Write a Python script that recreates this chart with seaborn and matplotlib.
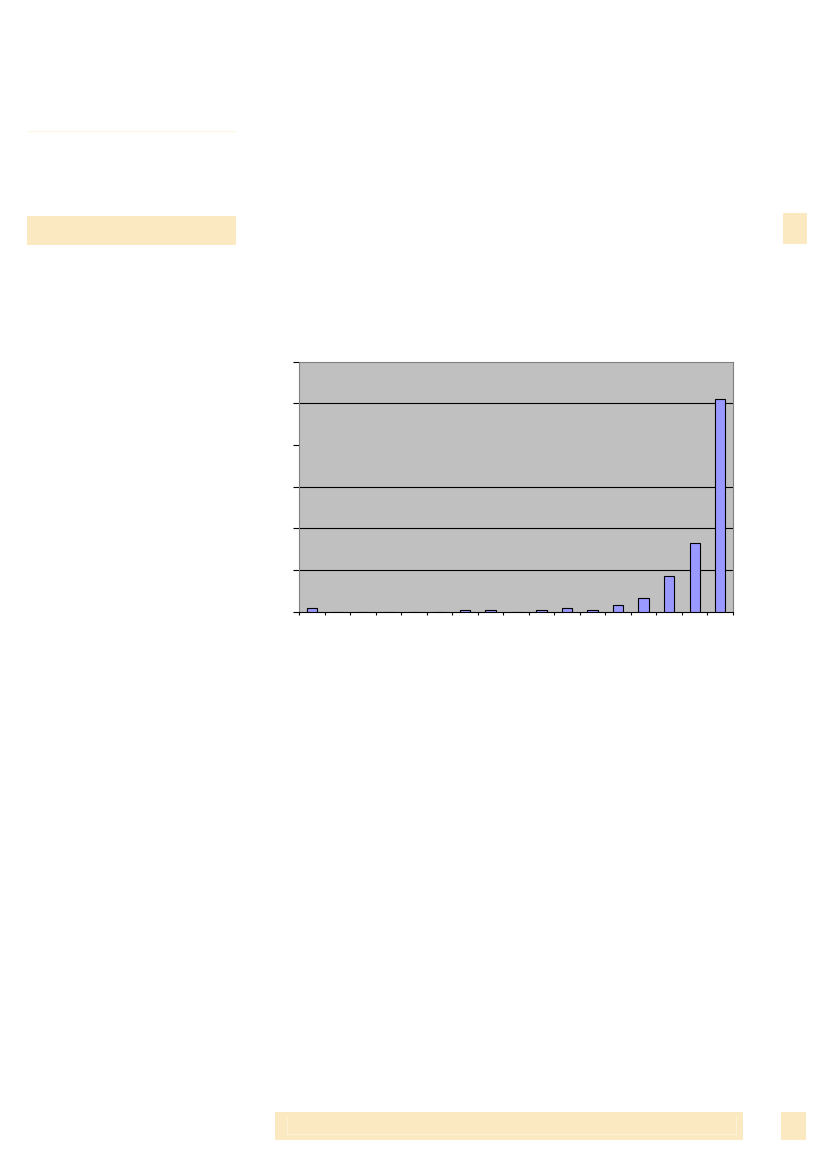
import matplotlib
matplotlib.use("Agg")
import matplotlib.pyplot as plt
from matplotlib.patches import Rectangle
import seaborn as sns
import pandas as pd

# ---- data ----
categories = [str(i) for i in range(1, 18)]
values = [0.08, 0, 0, 0, 0, 0, 0.03, 0.03, 0, 0.03, 0.08, 0.03, 0.15, 0.34, 0.85, 1.66, 5.1]
y_ticks = [0, 1, 2, 3, 4, 5, 6]
grid_values = [1, 2, 3, 5]

df = pd.DataFrame({"category": categories, "value": values})

sns.set_theme(style="white")
plt.rcParams['font.family'] = ['DejaVu Sans']

W, H = 826, 1169
fig = plt.figure(figsize=(W / 100, H / 100), dpi=100)
fig.patch.set_facecolor("white")

pale = "#FBE9C1"

def px_rect(x0, y0, x1, y1, **kw):
    fig.patches.append(Rectangle((x0 / W, 1 - y1 / H), (x1 - x0) / W, (y1 - y0) / H,
                                 transform=fig.transFigure, figure=fig, **kw))

def px_line(xs, ys, **kw):
    fig.add_artist(plt.Line2D([x / W for x in xs], [1 - y / H for y in ys],
                              transform=fig.transFigure, **kw))

# page decorations
px_line([28, 235], [131, 131], color="#FDF5E2", lw=0.8)
px_rect(27, 216, 236, 245, facecolor=pale, edgecolor="none")
px_rect(783, 213.5, 806.5, 243.5, facecolor=pale, edgecolor="none")
px_rect(274.5, 1112, 743, 1139.5, facecolor=pale, edgecolor="none")
px_line([287, 287, 736, 736], [1117, 1133.5, 1133.5, 1117], color="#FDF1D6", lw=0.8)
px_rect(781, 1112, 806, 1139.5, facecolor=pale, edgecolor="none")

# chart axes
left, right, top, bottom = 299.3, 733.0, 361.7, 611.7
ax = fig.add_axes([left / W, 1 - bottom / H, (right - left) / W, (bottom - top) / H])
ax.set_facecolor("#C0C0C0")

sns.barplot(data=df, x="category", y="value", color="#9999FF", width=0.41,
            edgecolor="black", linewidth=0.8, saturation=1, ax=ax, zorder=3)

for g in grid_values:
    ax.axhline(g, color="black", lw=0.8, zorder=1)

ax.set_ylim(0, 6)
ax.set_xlim(-0.5, len(categories) - 0.5)
ax.set_yticks(y_ticks)
ax.set_yticklabels([])
ax.set_xticks([i - 0.5 for i in range(len(categories) + 1)])
ax.set_xticklabels([])
ax.set_xlabel("")
ax.set_ylabel("")
ax.tick_params(axis="y", direction="out", length=4, width=0.8, color="black", left=True)
ax.tick_params(axis="x", direction="out", length=2.5, width=0.8, color="black", bottom=True)

for side in ["top", "right", "left"]:
    ax.spines[side].set_visible(True)
    ax.spines[side].set_color("#808080")
    ax.spines[side].set_linewidth(0.8)
ax.spines["bottom"].set_color("black")
ax.spines["bottom"].set_linewidth(0.8)

fig.savefig("out.png", dpi=100, facecolor="white")
